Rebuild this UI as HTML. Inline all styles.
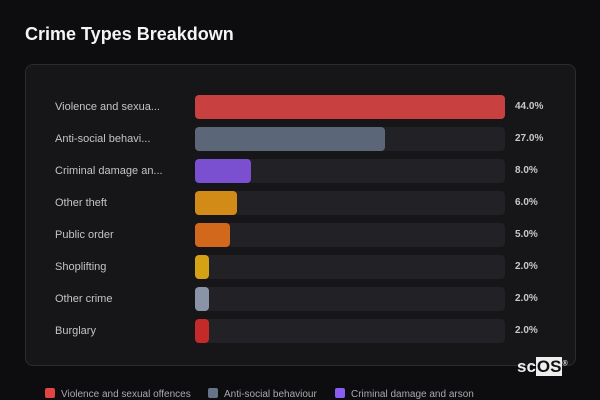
<!DOCTYPE html>
<html><head><meta charset="utf-8"><style>
*{margin:0;padding:0;box-sizing:border-box}
body{width:600px;height:400px;background:#0d0d10;font-family:"Liberation Sans",sans-serif;position:relative;overflow:hidden;color:#ccc}
h1{position:absolute;left:25px;top:24px;font-size:18px;font-weight:bold;color:#f4f4f6}
.panel{position:absolute;left:25px;top:64px;width:551px;height:302px;background:#161619;border:1px solid #2b2b30;border-radius:8px}
.row{position:absolute;left:0;width:600px;height:24px}
.lab{position:absolute;left:55px;top:0;line-height:24px;font-size:11px;color:#c4c4c8}
.track{position:absolute;left:195px;top:0;width:310px;height:24px;background:#222226;border-radius:4px}
.bar{position:absolute;left:195px;top:0;height:24px;border-radius:4px}
.val{position:absolute;left:515px;top:0;line-height:24px;font-size:10px;font-weight:bold;color:#c8c8cc}
.leg{position:absolute;top:388px;font-size:10px;color:#a8a8b0;white-space:nowrap}
.leg span{display:inline-block;width:10px;height:10px;border-radius:2px;vertical-align:-1px;margin-right:6px}
.logo{position:absolute;left:517px;top:357px;font-size:17px;font-weight:bold;color:#eee}
.logo b{background:#eee;color:#111;padding:0 1px}
</style></head><body>
<h1>Crime Types Breakdown</h1>
<div class="panel"></div>
<div class="row" style="top:95px"><div class="lab">Violence and sexua...</div><div class="track"></div><div class="bar" style="width:310px;background:#c94040"></div><div class="val">44.0%</div></div>
<div class="row" style="top:127px"><div class="lab">Anti-social behavi...</div><div class="track"></div><div class="bar" style="width:190px;background:#5b6778"></div><div class="val">27.0%</div></div>
<div class="row" style="top:159px"><div class="lab">Criminal damage an...</div><div class="track"></div><div class="bar" style="width:56px;background:#7a4fd0"></div><div class="val">8.0%</div></div>
<div class="row" style="top:191px"><div class="lab">Other theft</div><div class="track"></div><div class="bar" style="width:42px;background:#d18b16"></div><div class="val">6.0%</div></div>
<div class="row" style="top:223px"><div class="lab">Public order</div><div class="track"></div><div class="bar" style="width:35px;background:#d2681c"></div><div class="val">5.0%</div></div>
<div class="row" style="top:255px"><div class="lab">Shoplifting</div><div class="track"></div><div class="bar" style="width:14px;background:#d4a214"></div><div class="val">2.0%</div></div>
<div class="row" style="top:287px"><div class="lab">Other crime</div><div class="track"></div><div class="bar" style="width:14px;background:#8a94a6"></div><div class="val">2.0%</div></div>
<div class="row" style="top:319px"><div class="lab">Burglary</div><div class="track"></div><div class="bar" style="width:14px;background:#c42a2a"></div><div class="val">2.0%</div></div>
<div class="leg" style="left:45px"><span style="background:#e04444"></span>Violence and sexual offences</div>
<div class="leg" style="left:208px"><span style="background:#667388"></span>Anti-social behaviour</div>
<div class="leg" style="left:335px"><span style="background:#8a5cf0"></span>Criminal damage and arson</div>
<div class="logo">sc<b>OS</b><sup style="font-size:7px">®</sup></div>
</body></html>
